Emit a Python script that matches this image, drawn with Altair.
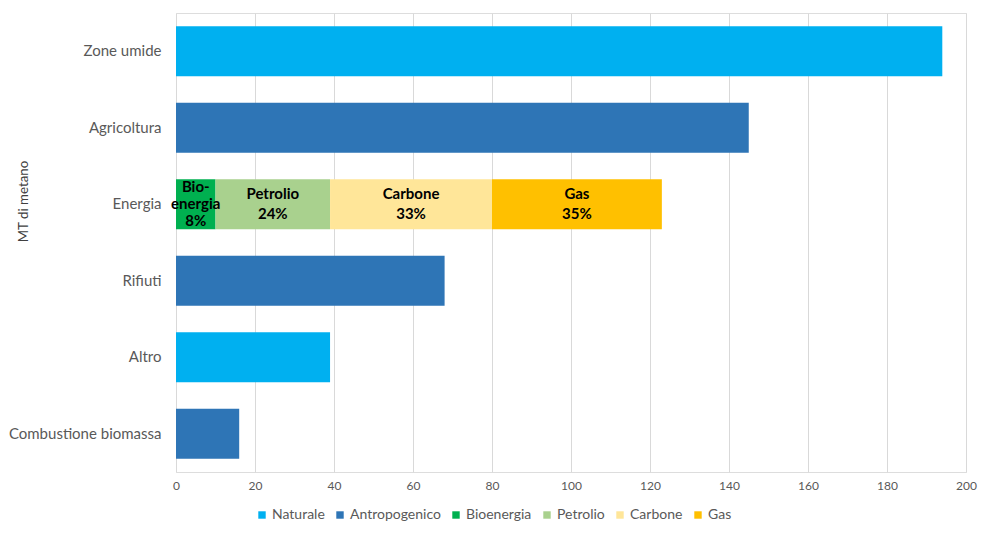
import altair as alt
import pandas as pd

# ---- data ----
categories = ["Zone umide", "Agricoltura", "Energia", "Rifiuti", "Altro", "Combustione biomassa"]
category_series = ["Naturale", "Antropogenico", None, "Antropogenico", "Naturale", "Antropogenico"]
category_values = [194, 145, None, 68, 39, 16]

energy_sources = ["Bioenergia", "Petrolio", "Carbone", "Gas"]
energy_values = [10, 29, 41, 43]
energy_labels = ["Bio-\nenergia\n8%", "Petrolio\n24%", "Carbone\n33%", "Gas\n35%"]

legend_series = ["Naturale", "Antropogenico", "Bioenergia", "Petrolio", "Carbone", "Gas"]
legend_colors = ["#00B0F0", "#2E75B6", "#00B050", "#A9D18E", "#FFE699", "#FFC000"]

# ---- tables ----
rows = []
for c, s, v in zip(categories, category_series, category_values):
    if v is not None:
        rows.append({"categoria": c, "serie": s, "valore": v, "ordine": 0})
for j, (s, v) in enumerate(zip(energy_sources, energy_values)):
    rows.append({"categoria": "Energia", "serie": s, "valore": v, "ordine": j})
bars_df = pd.DataFrame(rows)

cum = 0
lab_rows = []
for s, v, l in zip(energy_sources, energy_values, energy_labels):
    lab_rows.append({"categoria": "Energia", "mid": cum + v / 2, "etichetta": l,
                     "righe": l.count("\n") + 1})
    cum += v
labels_df = pd.DataFrame(lab_rows)

FONT = "Lato"
GREY = "#595959"

y_enc = alt.Y(
    "categoria:N",
    sort=categories,
    scale=alt.Scale(paddingInner=0.345, paddingOuter=0.1725),
    axis=alt.Axis(
        title="MT di metano",
        titleFont=FONT,
        titleFontSize=13.3,
        titleFontWeight="normal",
        titleColor="#404040",
        titleAngle=-90,
        titleX=-153,
        titleY=188,
        titleAlign="center",
        titleBaseline="middle",
        labelFont=FONT,
        labelFontSize=15,
        labelColor=GREY,
        labelPadding=15,
        ticks=False,
        domain=False,
        grid=False,
    ),
)

bars = alt.Chart(bars_df).mark_bar().encode(
    y=y_enc,
    x=alt.X(
        "valore:Q",
        stack="zero",
        scale=alt.Scale(domain=[0, 200], nice=False),
        axis=alt.Axis(
            title=None,
            values=list(range(0, 201, 20)),
            labelFont=FONT,
            labelFontSize=12,
            labelColor=GREY,
            labelPadding=8,
            labelFlush=False,
            ticks=False,
            domain=False,
            grid=True,
            gridColor="#D9D9D9",
            gridWidth=1,
        ),
    ),
    color=alt.Color(
        "serie:N",
        scale=alt.Scale(domain=legend_series, range=legend_colors),
        legend=alt.Legend(
            title=None,
            orient="none",
            direction="horizontal",
            legendX=79,
            legendY=495,
            symbolType="square",
            symbolSize=55,
            symbolStrokeWidth=0,
            labelFont=FONT,
            labelFontSize=14,
            labelColor=GREY,
            columnPadding=8,
            labelOffset=3,
        ),
    ),
    order=alt.Order("ordine:Q", sort="ascending"),
)


def label_layer(n, lh):
    return alt.Chart(labels_df).transform_filter(
        alt.datum.righe == n
    ).mark_text(
        font=FONT,
        fontSize=15,
        fontWeight="bold",
        color="black",
        lineBreak="\n",
        lineHeight=lh,
        align="center",
        baseline="middle",
        dy=-(n - 1) * lh / 2,
    ).encode(
        y=alt.Y("categoria:N", sort=categories),
        x=alt.X("mid:Q"),
        text="etichetta:N",
    )


chart = (
    alt.layer(bars, label_layer(2, 20), label_layer(3, 17))
    .properties(
        width=790,
        height=459,
        autosize=alt.AutoSizeParams(type="none"),
        padding={"left": 168, "top": 5, "right": 16, "bottom": 56},
    )
    .configure_view(stroke=None)
    .configure(background="white")
)

chart.save("out.html", embed_options={"renderer": "svg", "actions": False})
